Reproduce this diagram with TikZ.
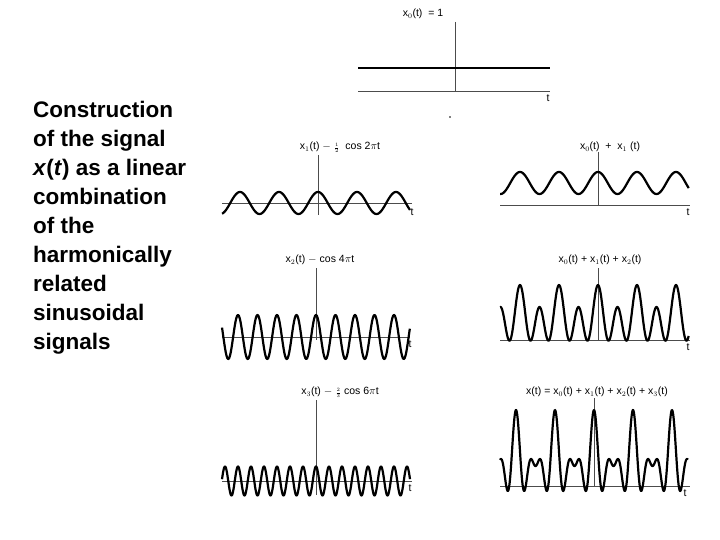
\documentclass[tikz,border=0pt]{standalone}
\usepackage{fontspec}
\setmainfont{Liberation Sans}
\begin{document}
\begin{tikzpicture}[x=1pt,y=-1pt,
  ax/.style={line width=0.6pt, black!70},
  sig/.style={line width=2.2pt, line join=round},
  lab/.style={font=\fontsize{10.5}{11}\selectfont, inner sep=0pt}]
\useasboundingbox (0,0) rectangle (720,540);
\node[anchor=north west, align=left, font=\bfseries\fontsize{22.5}{29}\selectfont, inner sep=0pt] (txt) at (33,101)
 {Construction\\of the signal\\\textit{x}(\textit{t}) as a linear\\combination\\of the\\harmonically\\related\\sinusoidal\\signals};
% x0
\node[lab] (l0) at (423,14) {x$_0$(t) \ = 1};
\draw[ax] (455,22) -- (455,92);
\draw[ax] (358,91) -- (550,91);
\draw[sig,line width=1.6pt] (358,68) -- (550,68);
\node[lab] (t0) at (548,98) {t};
\fill (450,117) circle (0.9);
% x1
\node[lab] (l1) at (340,147) {x$_1$(t) $-$ {\fontsize{7}{7}\selectfont$\frac12$} \ cos 2$\pi$t};
\draw[ax] (318,155) -- (318,215);
\draw[ax] (222,203) -- (412,203);
\draw[sig] plot[domain=-2.46:2.36,samples=300] ({318+39*\x},{203-11*cos(360*\x)});
\node[lab] (t1) at (412,212) {t};
% x2
\node[lab] (l2) at (320,260) {x$_2$(t) $-$ cos 4$\pi$t};
\draw[ax] (316,268) -- (316,340);
\draw[ax] (222,337) -- (410,337);
\draw[sig] plot[domain=-2.41:2.41,samples=400] ({316+39*\x},{337-22*cos(720*\x)});
\node[lab] (t2) at (410,344) {t};
% x3
\node[lab] (l3) at (340,392) {x$_3$(t) $-$ {\fontsize{7}{7}\selectfont$\frac23$} cos 6$\pi$t};
\draw[ax] (316,400) -- (316,495);
\draw[ax] (222,481) -- (412,481);
\draw[sig] plot[domain=-2.41:2.41,samples=500] ({316+39*\x},{481-14.5*cos(1080*\x)});
\node[lab] (t3) at (410,488) {t};
% right 1
\node[lab] (r1) at (610,147) {x$_0$(t) \ + \ x$_1$ (t)};
\draw[ax] (598,152) -- (598,206);
\draw[ax] (500,205) -- (690,205);
\draw[sig] plot[domain=-2.51:2.33,samples=300] ({598+39*\x},{205-22-11*cos(360*\x)});
\node[lab] (rt1) at (688,212) {t};
% right 2
\node[lab] (r2) at (600,260) {x$_0$(t) + x$_1$(t) + x$_2$(t)};
\draw[ax] (598,268) -- (598,340);
\draw[ax] (500,340) -- (690,340);
\draw[sig] plot[domain=-2.51:2.33,samples=500] ({598+39*\x},{340-22*(1+0.5*cos(360*\x)+cos(720*\x))});
\node[lab] (rt2) at (688,347) {t};
% right 3
\node[lab] (r3) at (597,392) {x(t) = x$_0$(t) + x$_1$(t) + x$_2$(t) + x$_3$(t)};
\draw[ax] (594,398) -- (594,486);
\draw[ax] (500,486) -- (690,486);
\draw[sig] plot[domain=-2.41:2.41,samples=600] ({594+39*\x},{486-24*(1+0.5*cos(360*\x)+cos(720*\x)+0.6667*cos(1080*\x))});
\node[lab] (rt3) at (685,493) {t};
\end{tikzpicture}
\end{document}
